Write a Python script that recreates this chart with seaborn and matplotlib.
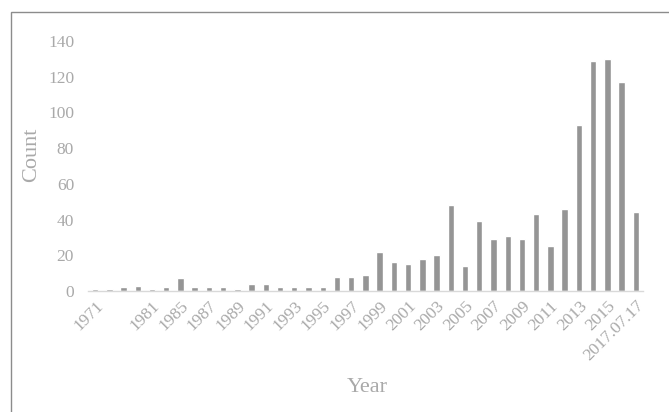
import numpy as np
import pandas as pd
import matplotlib
matplotlib.use('Agg')
import matplotlib.pyplot as plt
import seaborn as sns
from matplotlib.patches import Rectangle

# bar categories (first unlabeled ones are estimated)
years = ['1971', '1975', '1978', '1980', '1981', '1983', '1985', '1986', '1987', '1988',
         '1989', '1990', '1991', '1992', '1993', '1994', '1995', '1996', '1997', '1998',
         '1999', '2000', '2001', '2002', '2003', '2004', '2005', '2006', '2007', '2008',
         '2009', '2010', '2011', '2012', '2013', '2014', '2015', '2016', '2017.07.17']
counts = [1, 1, 2, 3, 1, 2, 7, 2, 2, 2,
          1, 4, 4, 2, 2, 2, 2, 8, 8, 9,
          22, 16, 15, 18, 20, 48, 14, 39, 29, 31,
          29, 43, 25, 46, 93, 129, 130, 117, 44]
# tick labels as they appear (every other bar, third one blank)
shown = ['1971', '', '', '', '1981', '', '1985', '', '1987', '',
         '1989', '', '1991', '', '1993', '', '1995', '', '1997', '',
         '1999', '', '2001', '', '2003', '', '2005', '', '2007', '',
         '2009', '', '2011', '', '2013', '', '2015', '', '2017.07.17']
yticks = [0, 20, 40, 60, 80, 100, 120, 140]

df = pd.DataFrame({'Year': years, 'Count': counts})

sns.set_style('white')
plt.rcParams['font.family'] = ['Liberation Serif', 'DejaVu Serif']

txt = '#a9a9a9'
fig = plt.figure(figsize=(6.69, 4.12), dpi=100)
ax = fig.add_axes([0.1315, 0.2937, 0.8295, 0.6068])

sns.barplot(data=df, x='Year', y='Count', order=years, color='#959595',
            saturation=1, width=0.45, ax=ax)

ax.set_ylim(0, 140)
ax.set_yticks(yticks)
ax.set_yticklabels([str(v) for v in yticks], color=txt, fontsize=12.5)
ax.set_xlim(-0.5, len(years) - 0.5)
ax.set_xticks(range(len(years)))
ax.set_xticklabels(shown, rotation=45, ha='right', rotation_mode='anchor',
                   color=txt, fontsize=12.5)
ax.tick_params(axis='x', length=0, pad=5)
ax.tick_params(axis='y', length=0, pad=10)
for s in ['top', 'right', 'left']:
    ax.spines[s].set_visible(False)
ax.spines['bottom'].set_color('#d9d9d9')
ax.spines['bottom'].set_linewidth(1)

ax.set_xlabel('')
ax.set_ylabel('')
fig.text(367 / 669, 1 - 387 / 412, 'Year', color=txt, fontsize=16,
         ha='center', va='center')
fig.text(32 / 669, 1 - 155 / 412, 'Count', color=txt, fontsize=16,
         ha='center', va='center', rotation=90)

# outer chart border
fig.patches.append(Rectangle((11 / 669, -0.01), 1.0, 1 - 12 / 412 + 0.01,
                             transform=fig.transFigure, fill=False,
                             edgecolor='#8c8c8c', linewidth=1))

fig.savefig('out.png', dpi=100)
